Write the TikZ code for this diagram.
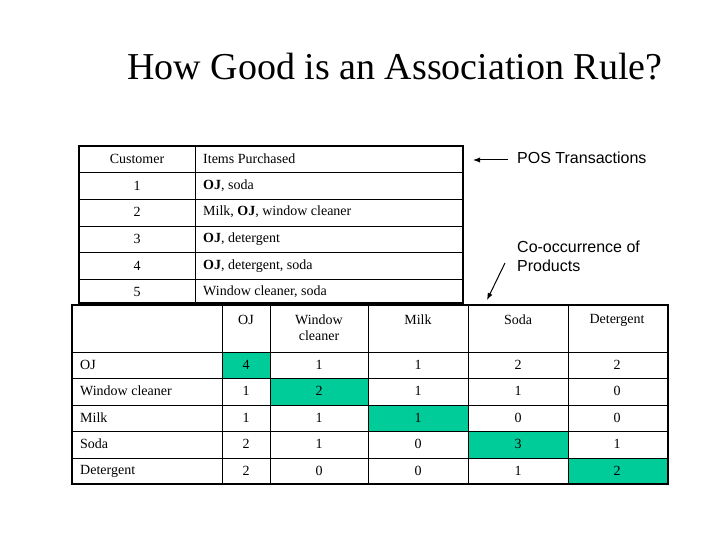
\documentclass[tikz,border=0pt]{standalone}
\usepackage{fontspec}
\setmainfont{Liberation Serif}
\newfontfamily\arial{Liberation Sans}
\usetikzlibrary{arrows.meta}
\definecolor{grn}{RGB}{0,204,153}
\begin{document}
\begin{tikzpicture}[x=1pt,y=-1pt,
  cell/.style={font=\fontsize{14}{16}\selectfont,inner sep=0pt},
  note/.style={font=\arial\fontsize{16}{19}\selectfont,align=left,anchor=west,inner sep=0pt},
  grid/.style={line width=0.6pt},
  frame/.style={line width=1.8pt}]
\useasboundingbox (0,0) rectangle (720,540);
\node[font=\fontsize{38}{44}\selectfont] (title) at (395,67) {How Good is an Association Rule?};
% top table
\foreach \y in {172,199,226,252,279} \draw[grid] (79,\y) -- (463,\y);
\draw[grid] (195,146) -- (195,303);
\draw[frame] (79,146) rectangle (463,303);
\node[cell] (c0) at (137,159) {Customer};
\node[cell,anchor=west] (i0) at (203,159) {Items Purchased};
\node[cell] (c1) at (137,186) {1};
\node[cell,anchor=west] (i1) at (203,186) {\textbf{OJ}, soda};
\node[cell] (c2) at (137,212) {2};
\node[cell,anchor=west] (i2) at (203,212) {Milk, \textbf{OJ}, window cleaner};
\node[cell] (c3) at (137,239) {3};
\node[cell,anchor=west] (i3) at (203,239) {\textbf{OJ}, detergent};
\node[cell] (c4) at (137,266) {4};
\node[cell,anchor=west] (i4) at (203,266) {\textbf{OJ}, detergent, soda};
\node[cell] (c5) at (137,292) {5};
\node[cell,anchor=west] (i5) at (203,292) {Window cleaner, soda};
% bottom table fills
\fill[grn] (222,352) rectangle (270,378);
\fill[grn] (270,378) rectangle (368,405);
\fill[grn] (368,405) rectangle (468,431);
\fill[grn] (468,431) rectangle (568,458);
\fill[grn] (568,458) rectangle (668,484);
\foreach \y in {352,378,405,431,458} \draw[grid] (72,\y) -- (668,\y);
\foreach \x in {222,270,368,468,568} \draw[grid] (\x,305) -- (\x,484);
\draw[frame] (72,305) rectangle (668,484);
\node[cell] (hOJ) at (246,320) {OJ};
\node[cell,align=center] (hW) at (319,328) {Window\\cleaner};
\node[cell] (hM) at (418,320) {Milk};
\node[cell] (hS) at (518,320) {Soda};
\node[cell] (hD) at (617,320) {Detergent};
\foreach \r/\lab/\y in {1/OJ/365,2/Window cleaner/391,3/Milk/418,4/Soda/444,5/Detergent/471}
  \node[cell,anchor=west] (r\r) at (80,\y) {\lab};
\foreach \r/\y/\a/\b/\c/\d/\e in {1/365/4/1/1/2/2,2/391/1/2/1/1/0,3/418/1/1/1/0/0,4/444/2/1/0/3/1,5/471/2/0/0/1/2}{
  \node[cell] (v\r a) at (246,\y) {\a};
  \node[cell] (v\r b) at (319,\y) {\b};
  \node[cell] (v\r c) at (418,\y) {\c};
  \node[cell] (v\r d) at (518,\y) {\d};
  \node[cell] (v\r e) at (617,\y) {\e};
}
% notes
\node[note] (pos) at (517,158) {POS Transactions};
\node[note] (co) at (517,256) {Co-occurrence of\\Products};
\coordinate (posend) at (473,160);
\coordinate (coend) at (487,300);
\draw[-{Latex[length=7pt]},line width=1pt] (508,160) -- (posend);
\draw[-{Latex[length=7pt]},line width=1pt] (505,263) -- (coend);
\end{tikzpicture}
\end{document}
